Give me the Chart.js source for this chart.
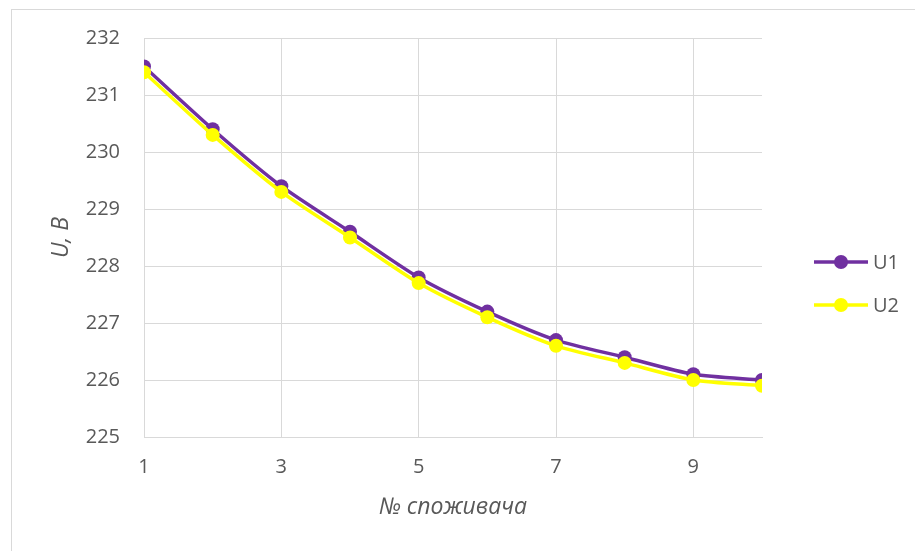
<!DOCTYPE html>
<html>
<head>
<meta charset="utf-8">
<script src="https://cdn.jsdelivr.net/npm/chart.js@4/dist/chart.umd.min.js"></script>
<style>
  html, body { margin: 0; padding: 0; background: #fff; }
  #wrap { position: relative; width: 915px; height: 551px; overflow: hidden; }
  #frame { position: absolute; left: 11px; top: 9px; width: 930px; height: 560px; border: 1px solid #d9d9d9; box-sizing: border-box; }
  canvas { position: absolute; left: 0; top: 0; }
</style>
</head>
<body>
<div id="wrap">
  <div id="frame"></div>
  <canvas id="c" width="915" height="551"></canvas>
</div>
<script>
// Consumer numbers and measured voltages
const consumers = [1, 2, 3, 4, 5, 6, 7, 8, 9, 10];
const u1 = [231.5, 230.4, 229.4, 228.6, 227.8, 227.2, 226.7, 226.4, 226.1, 226.0];
const u2 = [231.4, 230.3, 229.3, 228.5, 227.7, 227.1, 226.6, 226.3, 226.0, 225.9];
const xTicks = [1, 3, 5, 7, 9];
const yTicks = [225, 226, 227, 228, 229, 230, 231, 232];
const seriesNames = ['U1', 'U2'];
const xTitle = '№ споживача';
const yTitle = 'U, B';

const FONT = '"Open Sans", "Liberation Sans", sans-serif';
const TEXT = '#595959';
const GRID = '#d9d9d9';

const pts = arr => consumers.map((c, i) => ({ x: c, y: arr[i] }));

// Legend drawn at the right: short line with a marker, then the series name
const sideLegend = {
  id: 'sideLegend',
  afterDraw(chart) {
    const ctx = chart.ctx;
    const rows = [262, 305];
    chart.data.datasets.forEach((ds, i) => {
      const y = rows[i];
      ctx.save();
      ctx.strokeStyle = ds.borderColor;
      ctx.lineWidth = ds.borderWidth;
      ctx.beginPath();
      ctx.moveTo(814, y);
      ctx.lineTo(868, y);
      ctx.stroke();
      ctx.fillStyle = ds.pointBackgroundColor;
      ctx.beginPath();
      ctx.arc(841, y, ds.pointRadius, 0, Math.PI * 2);
      ctx.fill();
      ctx.fillStyle = TEXT;
      ctx.font = '20px ' + FONT;
      ctx.textBaseline = 'middle';
      ctx.textAlign = 'left';
      ctx.fillText(ds.label, 873, y + 1);
      ctx.restore();
    });
  }
};

const seriesStyle = (color) => ({
  borderColor: color,
  backgroundColor: color,
  pointBackgroundColor: color,
  pointBorderColor: color,
  pointBorderWidth: 0,
  pointRadius: 7,
  pointHoverRadius: 7,
  borderWidth: 3.5,
  tension: 0.25,
  fill: false
});

new Chart(document.getElementById('c'), {
  type: 'scatter',
  data: {
    datasets: [
      Object.assign({ label: seriesNames[0], data: pts(u1), showLine: true, order: 1 }, seriesStyle('#7030a0')),
      Object.assign({ label: seriesNames[1], data: pts(u2), showLine: true, order: 0 }, seriesStyle('#ffff00'))
    ]
  },
  options: {
    responsive: false,
    animation: false,
    devicePixelRatio: 1,
    layout: { padding: { top: 38, right: 153, bottom: 0, left: 0 } },
    plugins: { legend: { display: false }, tooltip: { enabled: false } },
    scales: {
      x: {
        type: 'linear',
        min: 1,
        max: 10,
        afterBuildTicks: s => { s.ticks = xTicks.map(v => ({ value: v })); },
        afterFit: s => { s.height = 114; },
        grid: { color: GRID, lineWidth: 1, drawTicks: false },
        border: { color: GRID, width: 1 },
        ticks: { color: TEXT, font: { family: FONT, size: 20 }, padding: 18, maxRotation: 0 },
        title: { display: true, text: xTitle, color: TEXT, font: { family: FONT, size: 23, style: 'italic' }, padding: { top: 4, bottom: 30 } }
      },
      y: {
        type: 'linear',
        min: 225,
        max: 232,
        afterBuildTicks: s => { s.ticks = yTicks.map(v => ({ value: v })); },
        afterFit: s => { s.width = 144; },
        grid: { color: GRID, lineWidth: 1, drawTicks: false },
        border: { display: false },
        ticks: { color: TEXT, font: { family: FONT, size: 20 }, padding: 24 },
        title: { display: true, text: yTitle, color: TEXT, font: { family: FONT, size: 23, style: 'italic' }, padding: { bottom: 0, top: 48 } }
      }
    }
  },
  plugins: [sideLegend]
});
</script>
</body>
</html>
